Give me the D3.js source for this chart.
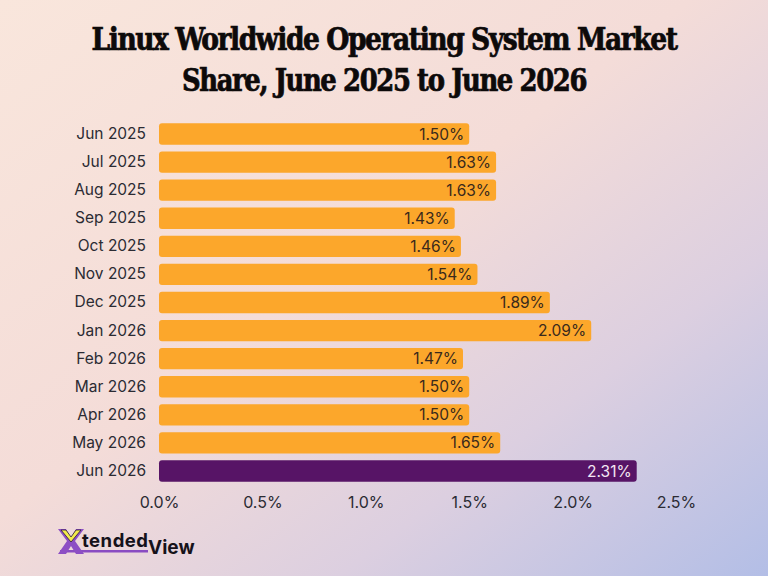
<!DOCTYPE html>
<html>
<head>
<meta charset="utf-8">
<script src="https://cdn.jsdelivr.net/npm/d3@7"></script>
<style>
  html, body { margin: 0; padding: 0; }
  body { width: 768px; height: 576px; overflow: hidden; }
  text { font-family: Inter, "Noto Sans", sans-serif; }
</style>
</head>
<body>
<div id="chart"></div>
<script>
// Chart data.
const months = ["Jun 2025", "Jul 2025", "Aug 2025", "Sep 2025", "Oct 2025", "Nov 2025", "Dec 2025",
                "Jan 2026", "Feb 2026", "Mar 2026", "Apr 2026", "May 2026", "Jun 2026"];
const shares = [1.50, 1.63, 1.63, 1.43, 1.46, 1.54, 1.89, 2.09, 1.47, 1.50, 1.50, 1.65, 2.31];
const xTicks = [0, 0.5, 1.0, 1.5, 2.0, 2.5];
const titleLines = ["Linux Worldwide Operating System Market", "Share, June 2025 to June 2026"];

// Dimensions.
const width = 768;
const height = 576;
const margin = { top: 120, right: 92, bottom: 91, left: 159 };

const svg = d3.select("#chart").append("svg")
    .attr("width", width)
    .attr("height", height);

// Background gradient.
const defs = svg.append("defs");
const grad = defs.append("linearGradient")
    .attr("id", "bg")
    .attr("x1", 0).attr("y1", 0).attr("x2", 1).attr("y2", 1);
grad.append("stop").attr("offset", "0%").attr("stop-color", "#f9e6dc");
grad.append("stop").attr("offset", "45%").attr("stop-color", "#f4dcd8");
grad.append("stop").attr("offset", "72%").attr("stop-color", "#dccfe0");
grad.append("stop").attr("offset", "100%").attr("stop-color", "#b3bee6");

svg.append("rect")
    .attr("width", width)
    .attr("height", height)
    .attr("fill", "url(#bg)");

// Title.
const titleWidths = [585, 404];
svg.append("g")
    .selectAll("text")
    .data(titleLines)
    .enter()
    .append("text")
    .attr("x", width / 2)
    .attr("y", (d, i) => 50 + i * 41)
    .attr("text-anchor", "middle")
    .attr("textLength", (d, i) => titleWidths[i])
    .attr("lengthAdjust", "spacingAndGlyphs")
    .style("font-family", "'DejaVu Serif Condensed', 'DejaVu Serif', serif")
    .style("font-weight", "bold")
    .style("font-size", "31px")
    .style("letter-spacing", "-1.5px")
    .attr("fill", "#0d0a0a")
    .attr("stroke", "#0d0a0a")
    .attr("stroke-width", 0.7)
    .text(d => d);

// Scales.
const x = d3.scaleLinear()
    .domain([0, 2.5])
    .range([margin.left, width - margin.right]);

const y = d3.scaleBand()
    .domain(months)
    .range([margin.top, height - margin.bottom])
    .paddingInner(0.24)
    .paddingOuter(0.12);

// Axes, no lines.
const xAxis = svg.append("g")
    .attr("transform", `translate(0,${height - margin.bottom})`)
    .call(d3.axisBottom(x).tickValues(xTicks).tickFormat(d => d.toFixed(1) + "%").tickSize(0).tickPadding(12));
xAxis.select(".domain").remove();
xAxis.selectAll("text")
    .style("font-family", "Inter, sans-serif")
    .style("font-size", "16px")
    .attr("fill", "#2b2b33");

const yAxis = svg.append("g")
    .attr("transform", `translate(${margin.left},0)`)
    .call(d3.axisLeft(y).tickSize(0).tickPadding(13));
yAxis.select(".domain").remove();
yAxis.selectAll("text")
    .style("font-family", "Inter, sans-serif")
    .style("font-size", "15.5px")
    .attr("fill", "#2b2b33");

// Bars.
const rows = months.map((m, i) => ({ month: m, value: shares[i], last: i === months.length - 1 }));

svg.append("g")
    .selectAll("rect")
    .data(rows)
    .enter()
    .append("rect")
    .attr("x", x(0))
    .attr("y", d => y(d.month))
    .attr("width", d => x(d.value) - x(0))
    .attr("height", y.bandwidth())
    .attr("rx", 3)
    .attr("fill", d => d.last ? "#571466" : "#fca72b");

// Value labels inside bar ends.
svg.append("g")
    .selectAll("text")
    .data(rows)
    .enter()
    .append("text")
    .attr("x", d => x(d.value) - 5)
    .attr("y", d => y(d.month) + y.bandwidth() / 2)
    .attr("dy", "0.36em")
    .attr("text-anchor", "end")
    .style("font-size", "15.5px")
    .attr("fill", d => d.last ? "#f3e6f3" : "#3a2a1c")
    .text(d => d.value.toFixed(2) + "%");

// Logo.
const logo = svg.append("g").attr("transform", "translate(58,529)");
logo.append("rect")
    .attr("x", 2).attr("y", 21).attr("width", 88).attr("height", 2.5)
    .attr("fill", "#8a4cc2");
logo.append("path")
    .attr("d", "M0,0 L8,0 L13,9 L18,0 L26,0 L17,12 L26,25 L18,25 L13,17 L8,25 L0,25 L9,12 Z")
    .attr("fill", "#8d4fc4");
logo.append("path")
    .attr("d", "M3,1 L8,1 L13,8 L18,1 L23,1 L13,13 Z")
    .attr("fill", "#f2ea4a")
    .attr("stroke", "#2a1a3a")
    .attr("stroke-width", 0.8);
logo.append("text")
    .attr("x", 24).attr("y", 18)
    .attr("textLength", 66)
    .style("font-size", "18.5px")
    .style("font-weight", "700")
    .attr("fill", "#16121a")
    .text("tended");
logo.append("text")
    .attr("x", 90).attr("y", 25)
    .style("font-size", "19px")
    .style("font-weight", "700")
    .attr("fill", "#16121a")
    .text("View");
</script>
</body>
</html>
